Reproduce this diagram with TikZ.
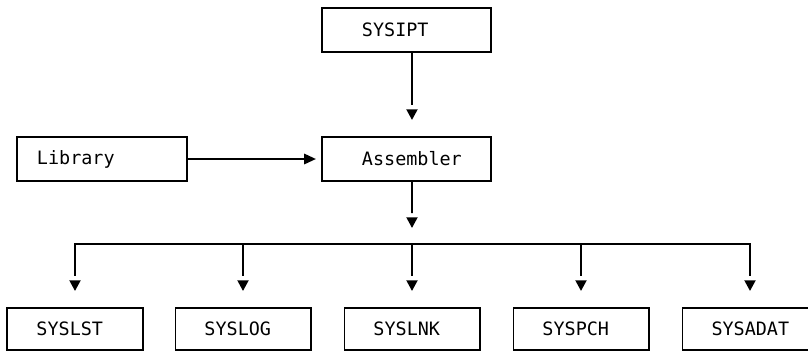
\documentclass[tikz,border=0pt]{standalone}
\usepackage{fontspec}
\setmonofont{DejaVu Sans Mono}
\usetikzlibrary{
  arrows.meta,
  positioning,
  calc
}

\begin{document}
\begin{tikzpicture}[
  x=0.025cm, y=-0.025cm,
  bbox/.style={
    draw, line width=1.4pt, text width=#1, align=left,
    inner xsep=0pt, inner ysep=0pt, font=\ttfamily\fontsize{13.1}{15}\selectfont
  },
  topbox/.style={bbox=4.225cm, minimum height=1.1cm},
  lowbox/.style={bbox=3.375cm, minimum height=1.05cm},
  pad/.style={execute at begin node={\hspace*{#1}}},
  harrow/.style={-{Triangle[width=7.4pt,length=8.4pt]}, line width=1.4pt, shorten >=3.6pt},
  varrow/.style={
    line width=1.4pt, shorten >=22pt,
    postaction={draw, dash pattern=on 0pt off 100cm,
      -{Triangle[width=7.8pt,length=7.6pt]}, shorten >=11.4pt}
  }
]
\useasboundingbox (0,0) rectangle (808,351);

% top row
\node[topbox, pad=1cm] (ipt) at (406.5,30) {SYSIPT};
\node[topbox, pad=1cm] (asm) at (406.5,159) {Assembler};
\node[topbox, text width=4.25cm, pad=0.5cm] (lib) at (102,159) {Library};

% outputs
\node[lowbox, pad=0.725cm] (lst)  at (75,329)  {SYSLST};
\node[lowbox, pad=0.725cm] (log)  at (243,329) {SYSLOG};
\node[lowbox, pad=0.725cm] (lnk)  at (412,329) {SYSLNK};
\node[lowbox, pad=0.725cm] (pch)  at (581,329) {SYSPCH};
\node[lowbox, pad=0.725cm] (adat) at (750,329) {SYSADAT};

\coordinate (bus) at (412,244);

% connectors
\draw[varrow] ([xshift=3.9pt]ipt.south) -- ([xshift=3.9pt]asm.north);
\draw[harrow] (lib) -- (asm);
\draw[varrow] ([xshift=3.9pt]asm.south) -- (bus);
\foreach \n in {lst,log,lnk,pch,adat}
  \draw[varrow] (bus) -| (\n);
\end{tikzpicture}
\end{document}
